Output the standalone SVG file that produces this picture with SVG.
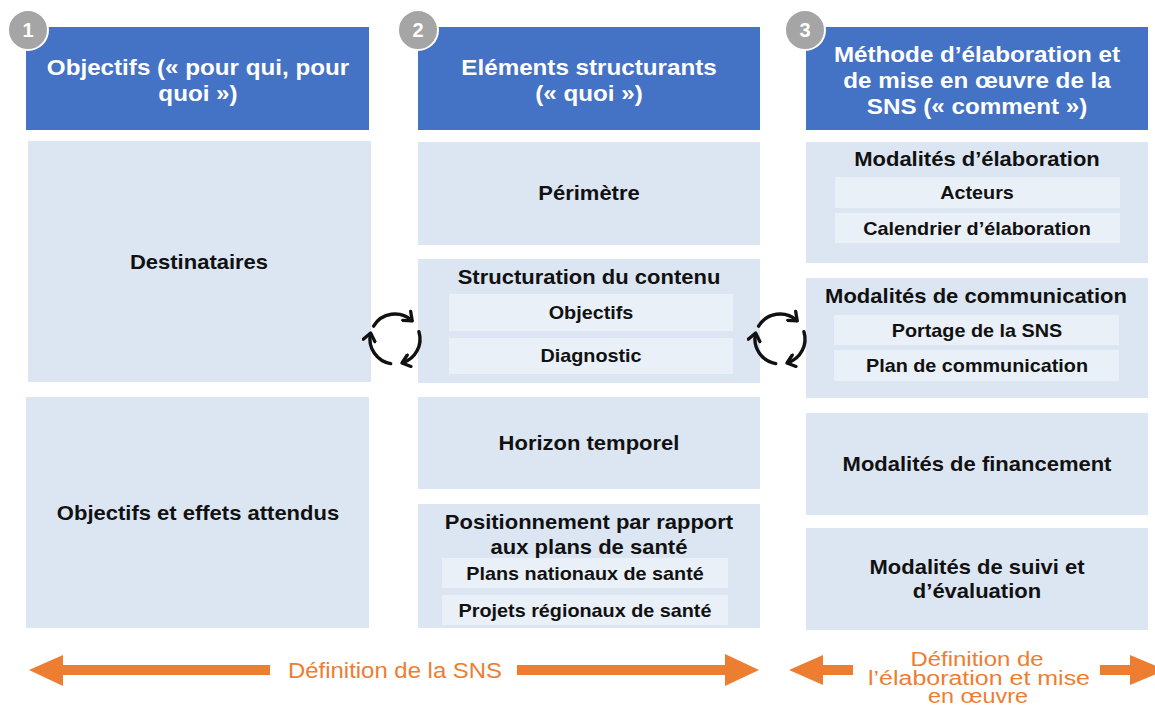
<svg xmlns="http://www.w3.org/2000/svg" width="1155" height="706" viewBox="0 0 1155 706">
<defs>
<style>
.hdr{fill:#4472c4}
.box{fill:#dce6f2}
.sub{fill:#eaf0f8}
.ht{font-family:"Liberation Sans",Arial,sans-serif;font-weight:bold;font-size:22px;fill:#ffffff;text-anchor:middle}
.bt{font-family:"Liberation Sans",Arial,sans-serif;font-weight:bold;font-size:20px;fill:#111111;text-anchor:middle}
.st{font-family:"Liberation Sans",Arial,sans-serif;font-weight:bold;font-size:18px;fill:#111111;text-anchor:middle}
.ot{font-family:"Liberation Sans",Arial,sans-serif;font-size:20px;fill:#ed7d31;text-anchor:middle}
.num{fill:#a5a5a5;stroke:#ffffff;stroke-width:2}
.nt{font-family:"Liberation Sans",Arial,sans-serif;font-weight:bold;font-size:20px;fill:#ffffff;text-anchor:middle}
.cyc{fill:none;stroke:#111111;stroke-width:3.4;stroke-linecap:round}
.arr{fill:#ed7d31}
</style>
<marker id="chev" viewBox="0 0 10 10" refX="6" refY="5" markerWidth="15" markerHeight="15" markerUnits="userSpaceOnUse" orient="auto">
<path d="M1.5,1 L6.5,5 L1.5,9" fill="none" stroke="#111111" stroke-width="2.2" stroke-linecap="round" stroke-linejoin="round"/>
</marker>
</defs>
<rect x="0" y="0" width="1155" height="706" fill="#ffffff"/>

<!-- Column 1 -->
<g id="header1">
<rect class="hdr" x="26" y="27" width="343" height="103"/>
<text class="ht" transform="matrix(1.1 0 0 1 198 0)" x="0" y="75">Objectifs (« pour qui, pour</text>
<text class="ht" transform="matrix(1.1 0 0 1 198 0)" x="0" y="101">quoi »)</text>
</g>
<g id="badge1">
<circle class="num" cx="28" cy="30" r="20"/>
<text class="nt" x="28" y="37">1</text>
</g>
<g id="destinataires">
<rect class="box" x="28" y="141" width="343" height="241"/>
<text class="bt" transform="matrix(1.1 0 0 1 199 0)" x="0" y="269">Destinataires</text>
</g>
<g id="objectifs-effets">
<rect class="box" x="26" y="397" width="343" height="231"/>
<text class="bt" transform="matrix(1.1 0 0 1 198 0)" x="0" y="520">Objectifs et effets attendus</text>
</g>

<!-- Column 2 -->
<g id="header2">
<rect class="hdr" x="418" y="27" width="342" height="103"/>
<text class="ht" transform="matrix(1.1 0 0 1 589 0)" x="0" y="75">Eléments structurants</text>
<text class="ht" transform="matrix(1.1 0 0 1 589 0)" x="0" y="101">(« quoi »)</text>
</g>
<g id="badge2">
<circle class="num" cx="418" cy="30" r="20"/>
<text class="nt" x="418" y="37">2</text>
</g>
<g id="perimetre">
<rect class="box" x="418" y="142" width="342" height="103"/>
<text class="bt" transform="matrix(1.1 0 0 1 589 0)" x="0" y="200">Périmètre</text>
</g>
<g id="structuration">
<rect class="box" x="418" y="259" width="342" height="124"/>
<text class="bt" transform="matrix(1.1 0 0 1 589 0)" x="0" y="284">Structuration du contenu</text>
<rect class="sub" x="449" y="294" width="284" height="37"/>
<text class="st" transform="matrix(1.1 0 0 1 591 0)" x="0" y="319">Objectifs</text>
<rect class="sub" x="449" y="338" width="284" height="36"/>
<text class="st" transform="matrix(1.1 0 0 1 591 0)" x="0" y="362">Diagnostic</text>
</g>
<g id="horizon">
<rect class="box" x="418" y="397" width="342" height="92"/>
<text class="bt" transform="matrix(1.1 0 0 1 589 0)" x="0" y="450">Horizon temporel</text>
</g>
<g id="positionnement">
<rect class="box" x="418" y="504" width="342" height="124"/>
<text class="bt" transform="matrix(1.1 0 0 1 589 0)" x="0" y="529">Positionnement par rapport</text>
<text class="bt" transform="matrix(1.1 0 0 1 589 0)" x="0" y="554">aux plans de santé</text>
<rect class="sub" x="442" y="558" width="286" height="30"/>
<text class="st" transform="matrix(1.1 0 0 1 585 0)" x="0" y="580">Plans nationaux de santé</text>
<rect class="sub" x="442" y="595" width="286" height="30"/>
<text class="st" transform="matrix(1.1 0 0 1 585 0)" x="0" y="617">Projets régionaux de santé</text>
</g>

<!-- Column 3 -->
<g id="header3">
<rect class="hdr" x="806" y="27" width="342" height="103"/>
<text class="ht" transform="matrix(1.1 0 0 1 977 0)" x="0" y="62">Méthode d’élaboration et</text>
<text class="ht" transform="matrix(1.1 0 0 1 977 0)" x="0" y="88">de mise en œuvre de la</text>
<text class="ht" transform="matrix(1.1 0 0 1 977 0)" x="0" y="114">SNS (« comment »)</text>
</g>
<g id="badge3">
<circle class="num" cx="805" cy="30" r="20"/>
<text class="nt" x="805" y="37">3</text>
</g>
<g id="modalites-elaboration">
<rect class="box" x="806" y="142" width="342" height="121"/>
<text class="bt" transform="matrix(1.1 0 0 1 977 0)" x="0" y="166">Modalités d’élaboration</text>
<rect class="sub" x="835" y="177" width="285" height="31"/>
<text class="st" transform="matrix(1.1 0 0 1 977 0)" x="0" y="199">Acteurs</text>
<rect class="sub" x="835" y="213" width="285" height="30"/>
<text class="st" transform="matrix(1.1 0 0 1 977 0)" x="0" y="235">Calendrier d’élaboration</text>
</g>
<g id="modalites-communication">
<rect class="box" x="806" y="278" width="342" height="120"/>
<text class="bt" transform="matrix(1.1 0 0 1 976 0)" x="0" y="303">Modalités de communication</text>
<rect class="sub" x="834" y="315" width="285" height="30"/>
<text class="st" transform="matrix(1.1 0 0 1 977 0)" x="0" y="337">Portage de la SNS</text>
<rect class="sub" x="834" y="350" width="285" height="31"/>
<text class="st" transform="matrix(1.1 0 0 1 977 0)" x="0" y="372">Plan de communication</text>
</g>
<g id="modalites-financement">
<rect class="box" x="806" y="413" width="342" height="102"/>
<text class="bt" transform="matrix(1.1 0 0 1 977 0)" x="0" y="471">Modalités de financement</text>
</g>
<g id="modalites-suivi">
<rect class="box" x="806" y="528" width="342" height="102"/>
<text class="bt" transform="matrix(1.1 0 0 1 977 0)" x="0" y="574">Modalités de suivi et</text>
<text class="bt" transform="matrix(1.1 0 0 1 977 0)" x="0" y="598">d’évaluation</text>
</g>

<!-- Connectors: cycle icons and bottom arrows -->
<g id="connectors">
<g id="cycle1">
<path class="cyc" marker-end="url(#chev)" d="M373.6,326.1 A25,25 0 0 1 411.7,320.4"/>
<path class="cyc" marker-end="url(#chev)" d="M418.9,331.7 A25,25 0 0 1 402.7,362.8"/>
<path class="cyc" marker-end="url(#chev)" d="M390.7,363.6 A25,25 0 0 1 370.5,333.8"/>
</g>
<g id="cycle2">
<path class="cyc" marker-end="url(#chev)" d="M758.6,326.1 A25,25 0 0 1 796.7,320.4"/>
<path class="cyc" marker-end="url(#chev)" d="M803.9,331.7 A25,25 0 0 1 787.7,362.8"/>
<path class="cyc" marker-end="url(#chev)" d="M775.7,363.6 A25,25 0 0 1 755.5,333.8"/>
</g>
<polygon class="arr" points="29,670 63,655 63,665 270,665 270,675 63,675 63,686"/>
<polygon class="arr" points="517,665 725,665 725,654 759,670 725,686 725,675 517,675"/>
<polygon class="arr" points="789,670 823,655 823,665 853,665 853,675 823,675 823,685"/>
<polygon class="arr" points="1100,665 1130,665 1130,655 1166,670 1130,685 1130,675 1100,675"/>
</g>

<g id="labels">
<text class="ot" style="font-size:22px" x="395" y="678" textLength="214" lengthAdjust="spacingAndGlyphs">Définition de la SNS</text>
<text class="ot" x="977" y="666" textLength="133" lengthAdjust="spacingAndGlyphs">Définition de</text>
<text class="ot" x="979" y="685" textLength="222" lengthAdjust="spacingAndGlyphs">l’élaboration et mise</text>
<text class="ot" x="978" y="703" textLength="100" lengthAdjust="spacingAndGlyphs">en œuvre</text>
</g>
</svg>
